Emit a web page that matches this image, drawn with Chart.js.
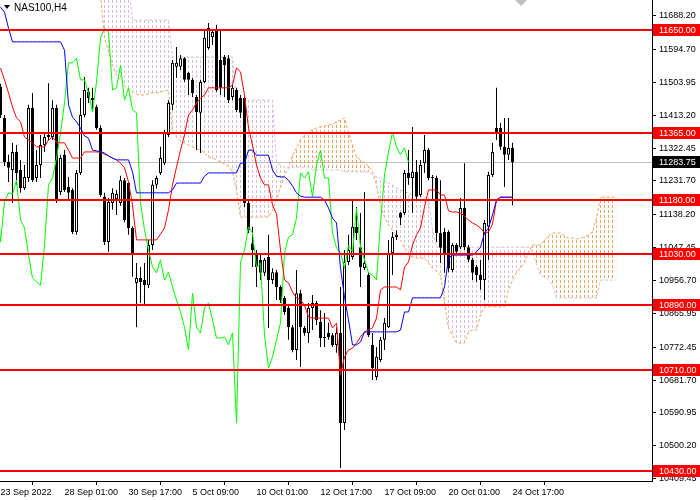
<!DOCTYPE html>
<html>
<head>
<meta charset="utf-8">
<script src="https://cdn.jsdelivr.net/npm/chart.js"></script>
<style>
  html, body { margin: 0; padding: 0; background: #fff; }
  canvas { display: block; }
</style>
</head>
<body>
<canvas id="chart" width="700" height="500"></canvas>
<script>
// NAS100 H4, one value per bar (bar 0 = 23 Sep 2022)
const opens = [
    11491, 11406, 11284, 11262, 11312, 11262, 11212, 11240, 11433, 11240,
    11276, 11331, 11353, 11353, 11433, 11201, 11304, 11215, 11207, 11091,
    11254, 11414, 11478, 11461, 11436, 11378, 11188, 11063, 11171, 11182,
    11171, 11234, 11226, 11102, 10950, 10964, 10958, 10944, 11055, 11221,
    11254, 11281, 11359, 11442, 11547, 11547, 11571, 11530, 11511, 11464,
    11420, 11505, 11599, 11629, 11649, 11566, 11574, 11571, 11464, 11483,
    11461, 11461, 11171, 11060, 11033, 11014, 10978, 11022, 10958, 10980,
    10939, 10909, 10881, 10828, 10765, 10922, 10826, 10812, 10881, 10895,
    10842, 10801, 10812, 10806, 10779, 10812, 10563, 11008, 11022, 11105,
    11049, 10991, 10972, 10779, 10690, 10737, 10793, 10828, 11033, 11077,
    11143, 11143, 11254, 11240, 11257, 11193, 11281, 11317, 11243, 11240,
    11088, 11091, 11091, 10986, 11055, 11049, 11157, 11049, 11014, 10994,
    10972, 10958, 11105, 11248, 11378, 11378, 11326, 11304, 11323
];
const highs = [
    11500, 11414, 11304, 11337, 11331, 11290, 11276, 11442, 11475, 11317,
    11359, 11367, 11502, 11455, 11442, 11304, 11317, 11243, 11212, 11262,
    11461, 11519, 11489, 11489, 11442, 11386, 11199, 11185, 11212, 11207,
    11246, 11240, 11229, 11107, 11005, 10994, 11005, 11069, 11234, 11246,
    11326, 11373, 11455, 11566, 11602, 11580, 11574, 11533, 11516, 11469,
    11511, 11649, 11668, 11649, 11663, 11649, 11580, 11580, 11497, 11489,
    11469, 11466, 11179, 11105, 11041, 11033, 11019, 11083, 10991, 10986,
    10944, 10914, 10889, 10834, 10986, 10931, 10831, 10895, 10917, 10900,
    10875, 10867, 10840, 10812, 10828, 10939, 11041, 11083, 11179, 11160,
    11143, 11201, 10980, 10812, 10773, 10801, 10853, 11069, 11091, 11096,
    11146, 11262, 11317, 11381, 11290, 11290, 11359, 11323, 11248, 11246,
    11234, 11102, 11096, 11060, 11060, 11185, 11281, 11055, 11019, 11000,
    11014, 11124, 11257, 11337, 11489, 11392, 11406, 11406, 11337
];
const lows = [
    11406, 11273, 11229, 11171, 11221, 11199, 11207, 11229, 11229, 11229,
    11240, 11312, 11345, 11345, 11171, 11193, 11201, 11179, 11085, 11083,
    11248, 11408, 11447, 11428, 11373, 11188, 11055, 11036, 11152, 11138,
    11163, 11118, 11083, 10967, 10828, 10895, 10889, 10936, 11041, 11210,
    11248, 11276, 11353, 11428, 11516, 11538, 11505, 11469, 11464, 11317,
    11309, 11502, 11594, 11607, 11478, 11469, 11464, 11447, 11455, 11422,
    11406, 11160, 11088, 10994, 10939, 10958, 10969, 10826, 10947, 10903,
    10895, 10862, 10793, 10759, 10737, 10718, 10804, 10784, 10820, 10834,
    10773, 10773, 10793, 10773, 10757, 10439, 10544, 11000, 11014, 11069,
    10939, 10986, 10801, 10682, 10682, 10732, 10765, 10826, 10972, 11069,
    11110, 11138, 11221, 11143, 11179, 11188, 11254, 11234, 11179, 11063,
    11005, 10978, 10980, 10980, 11027, 11044, 11041, 11008, 10958, 10953,
    10931, 10903, 11014, 11243, 11345, 11317, 11215, 11290, 11165
];
const closes = [
    11414, 11284, 11268, 11312, 11254, 11212, 11243, 11433, 11234, 11276,
    11331, 11353, 11359, 11433, 11179, 11295, 11207, 11199, 11091, 11254,
    11414, 11483, 11461, 11455, 11378, 11193, 11063, 11174, 11199, 11196,
    11234, 11124, 11102, 11027, 10964, 10953, 10944, 11055, 11221, 11240,
    11295, 11364, 11447, 11558, 11558, 11571, 11511, 11511, 11475, 11422,
    11505, 11627, 11654, 11643, 11483, 11489, 11552, 11455, 11489, 11428,
    11420, 11171, 11096, 11041, 10994, 10978, 11014, 10958, 10980, 10939,
    10903, 10870, 10828, 10765, 10922, 10828, 10812, 10881, 10895, 10848,
    10798, 10798, 10801, 10779, 10812, 10563, 11008, 11041, 11105, 11088,
    10994, 11005, 10806, 10715, 10746, 10793, 10840, 11033, 11077, 11083,
    11130, 11254, 11240, 11257, 11188, 11276, 11317, 11240, 11240, 11088,
    11047, 11033, 10991, 11055, 11036, 11157, 11049, 11014, 10978, 10972,
    10958, 11116, 11248, 11312, 11367, 11326, 11304, 11323, 11283.75
];

// Ichimoku lines as drawn on the chart
const tenkan = [
    11544, 11511, 11475, 11436, 11406, 11395, 11353, 11345, 11337, 11326,
    11326, 11326, 11345, 11353, 11339, 11337, 11337, 11317, 11295, 11295,
    11295, 11312, 11312, 11312, 11312, 11312, 11306, 11301, 11295, 11290,
    11281, 11268, 11229, 11165, 11069, 11069, 11069, 11069, 11069, 11069,
    11085, 11102, 11152, 11221, 11270, 11317, 11359, 11414, 11428, 11447,
    11461, 11469, 11489, 11489, 11489, 11489, 11489, 11489, 11497, 11544,
    11533, 11469, 11378, 11331, 11276, 11240, 11221, 11221, 11165, 11141,
    11041, 10958, 10950, 10925, 10909, 10903, 10889, 10856, 10853, 10853,
    10853, 10853, 10853, 10826, 10839, 10696, 10746, 10765, 10770, 10784,
    10801, 10815, 10820, 10826, 10853, 10931, 10939, 10939, 10939, 10939,
    10931, 10994, 11008, 11055, 11083, 11102, 11160, 11207, 11207, 11207,
    11193, 11193, 11149, 11146, 11146, 11143, 11135, 11124, 11116, 11110,
    11102, 11088, 11091, 11113, 11179, 11187, 11187, 11187, 11187
];
const kijun = [
    11712, 11698, 11654, 11616, 11616, 11616, 11616, 11616, 11616, 11616,
    11616, 11616, 11616, 11616, 11616, 11616, 11593, 11442, 11408, 11395,
    11378, 11356, 11350, 11317, 11315, 11312, 11309, 11301, 11295, 11290,
    11290, 11290, 11290, 11257, 11199, 11199, 11199, 11199, 11199, 11199,
    11199, 11199, 11199, 11207, 11226, 11226, 11226, 11226, 11226, 11226,
    11226, 11245, 11254, 11254, 11254, 11254, 11254, 11254, 11254, 11254,
    11281, 11281, 11317, 11317, 11303, 11303, 11303, 11303, 11262, 11245,
    11243, 11243, 11234, 11218, 11199, 11190, 11187, 11187, 11187, 11187,
    11187, 11179, 11157, 11129, 11116, 10991, 10911, 10848, 10779, 10779,
    10787, 10815, 10815, 10815, 10815, 10815, 10815, 10815, 10815, 10815,
    10820, 10870, 10870, 10909, 10909, 10909, 10909, 10909, 10909, 10909,
    10909, 10939, 11019, 11027, 11027, 11027, 11027, 11027, 11027, 11036,
    11049, 11088, 11102, 11138, 11179, 11187, 11187, 11187, 11187
];
// cloud, from bar 25 to 26 bars past the last candle
const cloudStart = 25;
const spanA = [
    11745, 11627, 11588, 11552, 11524, 11511, 11494, 11483, 11477, 11472,
    11469, 11469, 11472, 11475, 11475, 11477, 11480, 11483, 11364, 11353,
    11342, 11337, 11331, 11326, 11320, 11317, 11309, 11298, 11295, 11290,
    11284, 11279, 11273, 11257, 11207, 11132, 11132, 11132, 11132, 11132,
    11132, 11132, 11132, 11152, 11179, 11215, 11248, 11268, 11303, 11323,
    11345, 11359, 11367, 11373, 11378, 11381, 11384, 11386, 11389, 11395,
    11400, 11406, 11364, 11331, 11298, 11290, 11281, 11273, 11257, 11221,
    11165, 11132, 11110, 11096, 11080, 11069, 11047, 11027, 11022, 11019,
    11019, 11019, 11005, 10991, 10983, 10972, 10895, 10826, 10806, 10784,
    10784, 10784, 10815, 10820, 10820, 10862, 10884, 10884, 10884, 10884,
    10884, 10884, 10931, 10958, 10980, 10991, 11008, 11033, 11055, 11055,
    11055, 11069, 11080, 11088, 11088, 11088, 11080, 11074, 11074, 11071,
    11074, 11077, 11083, 11091, 11129, 11187, 11187, 11187, 11187, 11187
];
const spanB = [
    11773, 11773, 11773, 11773, 11773, 11773, 11773, 11773, 11676, 11676,
    11676, 11676, 11676, 11676, 11676, 11676, 11676, 11676, 11574, 11574,
    11574, 11574, 11574, 11574, 11574, 11574, 11574, 11574, 11574, 11574,
    11574, 11574, 11574, 11574, 11455, 11455, 11455, 11455, 11455, 11455,
    11455, 11455, 11455, 11455, 11281, 11276, 11270, 11270, 11270, 11270,
    11270, 11270, 11270, 11262, 11262, 11262, 11262, 11262, 11262, 11262,
    11262, 11257, 11257, 11257, 11257, 11257, 11257, 11257, 11248, 11243,
    11240, 11234, 11226, 11221, 11212, 11207, 11201, 11199, 11193, 11193,
    11190, 11187, 11187, 11096, 11049, 11049, 11049, 11049, 11049, 11049,
    11049, 11049, 11049, 11049, 11049, 11049, 11049, 11049, 11049, 11049,
    11049, 11049, 11049, 11049, 11049, 11049, 11049, 11049, 11036, 11000,
    10972, 10966, 10958, 10944, 10909, 10909, 10909, 10909, 10909, 10909,
    10909, 10909, 10909, 10909, 10909, 10958, 10958, 10958, 10958, 10958
];

const levels = [11650, 11365, 11180, 11030, 10890, 10710, 10430];
const lastPrice = 11283.75;
const priceTicks = [10409.45, 10500.20, 10590.95, 10681.70, 10772.45, 10865.95, 10956.70,
    11047.45, 11138.20, 11231.70, 11322.45, 11413.20, 11503.95, 11594.70, 11688.20];
const timeTicks = [0, 16, 32, 48, 64, 80, 96, 112, 128];
const timeLabels = ['23 Sep 2022', '28 Sep 01:00', '30 Sep 17:00', '5 Oct 09:00', '10 Oct 01:00',
    '12 Oct 17:00', '17 Oct 09:00', '20 Oct 01:00', '24 Oct 17:00'];

const FONT = '"Liberation Sans", Arial, sans-serif';
const canvas = document.getElementById('chart');
const g = canvas.getContext('2d');

// MT4 draws the kumo as dotted verticals, one per bar
function dotted(color) {
    const c = document.createElement('canvas');
    c.width = 4;
    c.height = 5;
    const p = c.getContext('2d');
    p.fillStyle = color;
    p.fillRect(0, 0, 1, 3);
    return g.createPattern(c, 'repeat');
}

function line(data, color, order, extra) {
    return Object.assign({
        type: 'line',
        data: data,
        borderColor: color,
        borderWidth: 1,
        pointRadius: 0,
        tension: 0,
        fill: false,
        order: order
    }, extra || {});
}

const overlay = {
    id: 'overlay',
    beforeDatasetsDraw(chart) {
        const {ctx, chartArea: a, scales: {y}} = chart;
        const py = Math.round(y.getPixelForValue(lastPrice)) + 0.5;
        ctx.save();
        ctx.strokeStyle = '#C0C0C0';
        ctx.lineWidth = 1;
        ctx.beginPath();
        ctx.moveTo(a.left, py);
        ctx.lineTo(a.right, py);
        ctx.stroke();
        ctx.restore();
    },
    afterDatasetsDraw(chart) {
        const {ctx, chartArea: a, scales: {y}} = chart;
        ctx.save();
        ctx.fillStyle = '#FF0000';
        levels.forEach(v => {
            const py = Math.round(y.getPixelForValue(v) - 1);
            ctx.fillRect(a.left, py, a.right - a.left, 2);
        });
        ctx.restore();
    },
    afterDraw(chart) {
        const {ctx, chartArea: a, scales: {x, y}} = chart;
        ctx.save();
        ctx.font = '9px ' + FONT;
        ctx.textBaseline = 'middle';
        const tag = (v, bg) => {
            const py = Math.round(y.getPixelForValue(v));
            ctx.fillStyle = bg;
            ctx.fillRect(a.right + 1, py - 6, 48, 12);
            ctx.fillStyle = '#fff';
            ctx.fillText(v.toFixed(2), a.right + 7, py + 0.5);
        };
        levels.forEach(v => tag(v, '#FF0000'));
        tag(lastPrice, '#000');

        // symbol caption
        ctx.fillStyle = '#000';
        ctx.beginPath();
        ctx.moveTo(4, 5);
        ctx.lineTo(10, 5);
        ctx.lineTo(7, 9);
        ctx.closePath();
        ctx.fill();
        ctx.font = '10px ' + FONT;
        ctx.fillText('NAS100,H4', 14, 8);

        // chart shift marker
        const sx = Math.round(x.getPixelForValue(130));
        ctx.fillStyle = '#C0C0C0';
        ctx.beginPath();
        ctx.moveTo(sx - 6, 0);
        ctx.lineTo(sx + 6, 0);
        ctx.lineTo(sx, 6);
        ctx.closePath();
        ctx.fill();
        ctx.restore();
    }
};

new Chart(canvas, {
    type: 'bar',
    data: {
        datasets: [
            line(spanA.map((v, i) => ({x: i + cloudStart, y: v})), '#F4A460', 10, {
                borderDash: [3, 2],
                fill: {target: '+1', above: dotted('#F4A460'), below: dotted('#D8BFD8')}
            }),
            line(spanB.map((v, i) => ({x: i + cloudStart, y: v})), '#D8BFD8', 9, {borderDash: [3, 2]}),
            {
                data: lows.map((l, i) => ({x: i, y: [l, highs[i]]})),
                backgroundColor: '#000',
                borderWidth: 0,
                barThickness: 1,
                grouped: false,
                inflateAmount: 0,
                order: 6
            },
            {
                data: opens.map((o, i) => ({x: i, y: [o, closes[i]]})),
                backgroundColor: opens.map((o, i) => closes[i] >= o ? '#fff' : '#000'),
                borderColor: '#000',
                borderWidth: 1,
                borderSkipped: false,
                barThickness: 3,
                minBarLength: 1,
                grouped: false,
                inflateAmount: 0,
                order: 5
            },
            line(closes.map((c, i) => ({x: i - 26, y: c})), '#00FF00', 4),
            line(tenkan.map((v, i) => ({x: i, y: v})), '#FF0000', 3),
            line(kijun.map((v, i) => ({x: i, y: v})), '#0000FF', 2)
        ]
    },
    options: {
        responsive: false,
        animation: false,
        layout: {padding: 0},
        plugins: {
            legend: {display: false},
            tooltip: {enabled: false}
        },
        scales: {
            x: {
                type: 'linear',
                min: -0.125,
                max: 162.875,
                offset: false,
                grid: {drawOnChartArea: false, drawTicks: true, tickLength: 4, color: '#000'},
                border: {color: '#000'},
                ticks: {
                    autoSkip: false,
                    maxRotation: 0,
                    minRotation: 0,
                    align: 'start',
                    padding: 2,
                    color: '#000',
                    font: {family: FONT, size: 9},
                    callback: (v, i) => timeLabels[i]
                },
                afterBuildTicks: s => { s.ticks = timeTicks.map(v => ({value: v})); },
                afterFit: s => { s.height = 19; s.paddingLeft = 0; s.paddingRight = 0; }
            },
            y: {
                position: 'right',
                min: 10403.1,
                max: 11731.6,
                grid: {drawOnChartArea: false, drawTicks: true, tickLength: 4, color: '#000'},
                border: {color: '#000'},
                ticks: {
                    autoSkip: false,
                    padding: 3,
                    color: '#000',
                    font: {family: FONT, size: 9},
                    callback: v => Number(v).toFixed(2)
                },
                afterBuildTicks: s => { s.ticks = priceTicks.map(v => ({value: v})); },
                afterFit: s => { s.width = 48; s.paddingTop = 0; s.paddingBottom = 0; }
            }
        }
    },
    plugins: [overlay]
});
</script>
</body>
</html>
